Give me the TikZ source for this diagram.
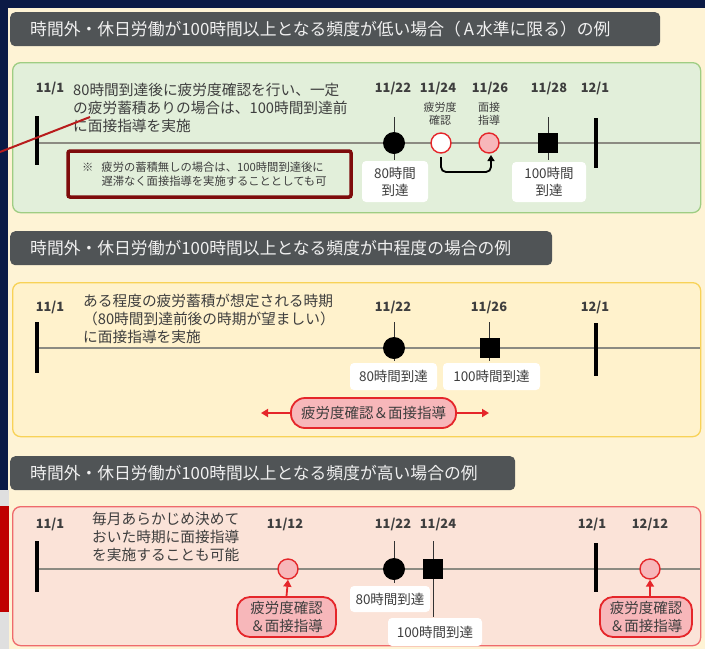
\documentclass[tikz,border=0pt]{standalone}
\usepackage{fontspec}
\setmainfont{Noto Sans CJK JP}
\usetikzlibrary{arrows.meta}
\definecolor{navy}{HTML}{0B1A45}
\definecolor{cream}{HTML}{FEF3D5}
\definecolor{titlegray}{HTML}{505456}
\definecolor{gfill}{HTML}{E2EFDA}
\definecolor{gline}{HTML}{9FCD83}
\definecolor{yfill}{HTML}{FFF2CC}
\definecolor{yline}{HTML}{F8D257}
\definecolor{pfill}{HTML}{FBE3D8}
\definecolor{pline}{HTML}{EF6A6C}
\definecolor{txt}{HTML}{3E3E3E}
\definecolor{axis}{HTML}{8C8B82}
\definecolor{dred}{HTML}{7E0B0B}
\definecolor{pinkc}{HTML}{F7B7BA}
\definecolor{redc}{HTML}{E5262A}
\definecolor{ptr}{HTML}{B81C1C}
\tikzset{
  titlebox/.style={fill=titlegray, rounded corners=5pt, text=white!94!black, anchor=north west,
    minimum height=34pt, inner xsep=20pt, align=left, font=\fontsize{16.8}{18}\selectfont},
  panel/.style={rounded corners=8pt, line width=1.3pt, anchor=north west, minimum width=688pt, inner sep=0pt},
  body/.style={text=txt, align=left, anchor=north west, inner sep=0pt, font=\fontsize{14.7}{18}\selectfont},
  datelab/.style={text=txt, inner sep=0pt, font=\bfseries\fontsize{12.8}{14}\selectfont},
  smalllab/.style={text=txt, inner sep=0pt, align=center, font=\fontsize{11}{13.5}\selectfont},
  axisline/.style={draw=axis, line width=1.4pt},
  tickline/.style={draw=txt!80!black, line width=1pt},
  bar/.style={draw=black, line width=4pt},
  blackdot/.style={circle, fill=black, minimum size=22pt, inner sep=0pt},
  blacksq/.style={rectangle, fill=black, minimum size=20pt, inner sep=0pt},
  opendot/.style={circle, draw=redc, line width=1.4pt, fill=white, minimum size=20pt, inner sep=0pt},
  pinkdot/.style={circle, draw=redc, line width=1.4pt, fill=pinkc, minimum size=20pt, inner sep=0pt},
  wlab/.style={fill=white, rounded corners=4pt, text=txt, align=center, inner sep=0pt,
    font=\fontsize{13.5}{17}\selectfont},
  pill/.style={draw=redc, line width=1.8pt, fill=pinkc, text=txt, align=center, inner sep=0pt,
    font=\fontsize{14.5}{18}\selectfont},
  redarrow/.style={draw=redc, line width=1.8pt, -{Triangle[length=7pt,width=8pt]}},
  bracket/.style={draw=black, line width=1.8pt, rounded corners=5pt, -{Triangle[length=6pt,width=7pt]}}
}
\begin{document}
\begin{tikzpicture}[x=1pt,y=-1pt]
\useasboundingbox (0,0) rectangle (705,649);
\fill[cream] (0,0) rectangle (705,649);
\fill[navy] (0,0) rectangle (705,8);
\fill[navy] (0,0) rectangle (8,490);
\fill[gray!25] (0,490) rectangle (9,649);
\fill[red!75!black] (0,506) rectangle (9,612);

% ---------- Section 1 ----------
\node[titlebox, text width=610pt] (t1) at (10,12)
  {時間外・休日労働が100時間以上となる頻度が低い場合（\hspace{3pt}A\hspace{2pt}水準に限る）の例};
\node[panel, draw=gline, fill=gfill, minimum height=150pt] (p1) at (12,62) {};
\coordinate (a1s) at (37,143);
\coordinate (a1e) at (700,143);
\draw[axisline] (a1s) -- (a1e);
\node[datelab] (d1a) at (50,88) {11/1};
\draw[bar] (37,116) -- (37,165);
\node[body] (b1) at (73,83)
  {80時間到達後に疲労度確認を行い、一定\\の疲労蓄積ありの場合は、100時間到達前\\に面接指導を実施};
\node[draw=dred, line width=3.5pt, fill=gfill, rounded corners=2pt, minimum width=283pt,
  minimum height=46pt, inner sep=0pt] (n1) at (209.5,174) {};
\node[text=txt, align=left, anchor=west, inner sep=0pt, font=\fontsize{11.3}{14}\selectfont] (n1t) at (82,174)
  {※\hspace{8pt}疲労の蓄積無しの場合は、100時間到達後に\\\hphantom{※}\hspace{8pt}遅滞なく面接指導を実施することとしても可};
\draw[ptr, line width=2pt] (0,152) -- (90,117);
% 11/22
\node[datelab] (d1b) at (393,88) {11/22};
\draw[tickline] (394,117) -- (394,160);
\node[blackdot] (c1a) at (394,143) {};
\node[wlab, minimum width=66pt, minimum height=41pt] (w1a) at (395,181.5) {80時間\\到達};
% 11/24
\node[datelab] (d1c) at (438,88) {11/24};
\node[smalllab] (s1c) at (440,114) {疲労度\\確認};
\node[opendot] (c1b) at (441,143) {};
% 11/26
\node[datelab] (d1d) at (490,88) {11/26};
\node[smalllab] (s1d) at (489,114) {面接\\指導};
\node[pinkdot] (c1c) at (489,143) {};
\coordinate (k1) at (441,157);
\coordinate (k2) at (465,172);
\coordinate (k3) at (491,155);
\draw[bracket] (k1) |- (k2) -| (k3);
% 11/28
\node[datelab] (d1e) at (549,88) {11/28};
\draw[tickline] (548,117) -- (548,160);
\node[blacksq] (q1) at (548,143) {};
\node[wlab, minimum width=74pt, minimum height=40pt] (w1b) at (549,182) {100時間\\到達};
% 12/1
\node[datelab] (d1f) at (595,88) {12/1};
\draw[bar] (596,118) -- (596,168);

% ---------- Section 2 ----------
\node[titlebox, text width=502pt] (t2) at (10,231)
  {時間外・休日労働が100時間以上となる頻度が中程度の場合の例};
\node[panel, draw=yline, fill=yfill, minimum height=154pt] (p2) at (12,282) {};
\coordinate (a2s) at (37,348);
\coordinate (a2e) at (700,348);
\draw[axisline] (a2s) -- (a2e);
\node[datelab] (d2a) at (50,307) {11/1};
\draw[bar] (37,322) -- (37,373);
\node[body] (b2) at (83,294)
  {ある程度の疲労蓄積が想定される時期\\（80時間到達前後の時期が望ましい）\\に面接指導を実施};
\node[datelab] (d2b) at (393,307) {11/22};
\draw[tickline] (394,322) -- (394,361);
\node[blackdot] (c2a) at (394,348) {};
\node[datelab] (d2c) at (489,307) {11/26};
\draw[tickline] (489,322) -- (489,361);
\node[blacksq] (q2) at (490,348) {};
\node[datelab] (d2d) at (595,307) {12/1};
\draw[bar] (596,323) -- (596,376);
\node[wlab, minimum width=87pt, minimum height=27pt] (w2a) at (393.5,376.5) {80時間到達};
\node[wlab, minimum width=97pt, minimum height=27pt] (w2b) at (491.5,376.5) {100時間到達};
\node[pill, rounded corners=14pt, minimum width=165pt, minimum height=30pt] (pl2) at (373.5,413)
  {疲労度確認＆面接指導};
\coordinate (r2l) at (261,413);
\coordinate (r2r) at (489,413);
\draw[redarrow] (pl2.west) -- (r2l);
\draw[redarrow] (pl2.east) -- (r2r);

% ---------- Section 3 ----------
\node[titlebox, text width=465pt] (t3) at (10,456)
  {時間外・休日労働が100時間以上となる頻度が高い場合の例};
\node[panel, draw=pline, fill=pfill, minimum height=139pt] (p3) at (12,506) {};
\coordinate (a3s) at (37,569);
\coordinate (a3e) at (700,569);
\draw[axisline] (a3s) -- (a3e);
\node[datelab] (d3a) at (50,524) {11/1};
\draw[bar] (37,541) -- (37,592);
\node[body] (b3) at (92,512)
  {毎月あらかじめ決めて\\おいた時期に面接指導\\を実施することも可能};
\node[datelab] (d3b) at (285,524) {11/12};
\node[pinkdot] (c3a) at (288,569) {};
\node[pill, rounded corners=13pt, minimum width=99pt, minimum height=40pt] (pl3a) at (286.5,617)
  {疲労度確認\\＆面接指導};
\draw[redarrow] (pl3a.north) -- (c3a.south);
\node[datelab] (d3c) at (393,524) {11/22};
\draw[tickline] (394,541) -- (394,583);
\node[blackdot] (c3b) at (394,569) {};
\node[datelab] (d3d) at (438,524) {11/24};
\draw[tickline] (433,541) -- (433,617);
\node[blacksq] (q3) at (433,569) {};
\node[wlab, minimum width=80pt, minimum height=26pt] (w3a) at (390,599) {80時間到達};
\node[wlab, minimum width=94pt, minimum height=28pt] (w3b) at (435,632) {100時間到達};
\node[datelab] (d3e) at (592,524) {12/1};
\draw[bar] (596,543) -- (596,592);
\node[datelab] (d3f) at (650,524) {12/12};
\node[pinkdot] (c3c) at (650,569) {};
\node[pill, rounded corners=13pt, minimum width=92pt, minimum height=40pt] (pl3b) at (646,617)
  {疲労度確認\\＆面接指導};
\draw[redarrow] (pl3b.north -| c3c) -- (c3c.south);
\end{tikzpicture}
\end{document}
